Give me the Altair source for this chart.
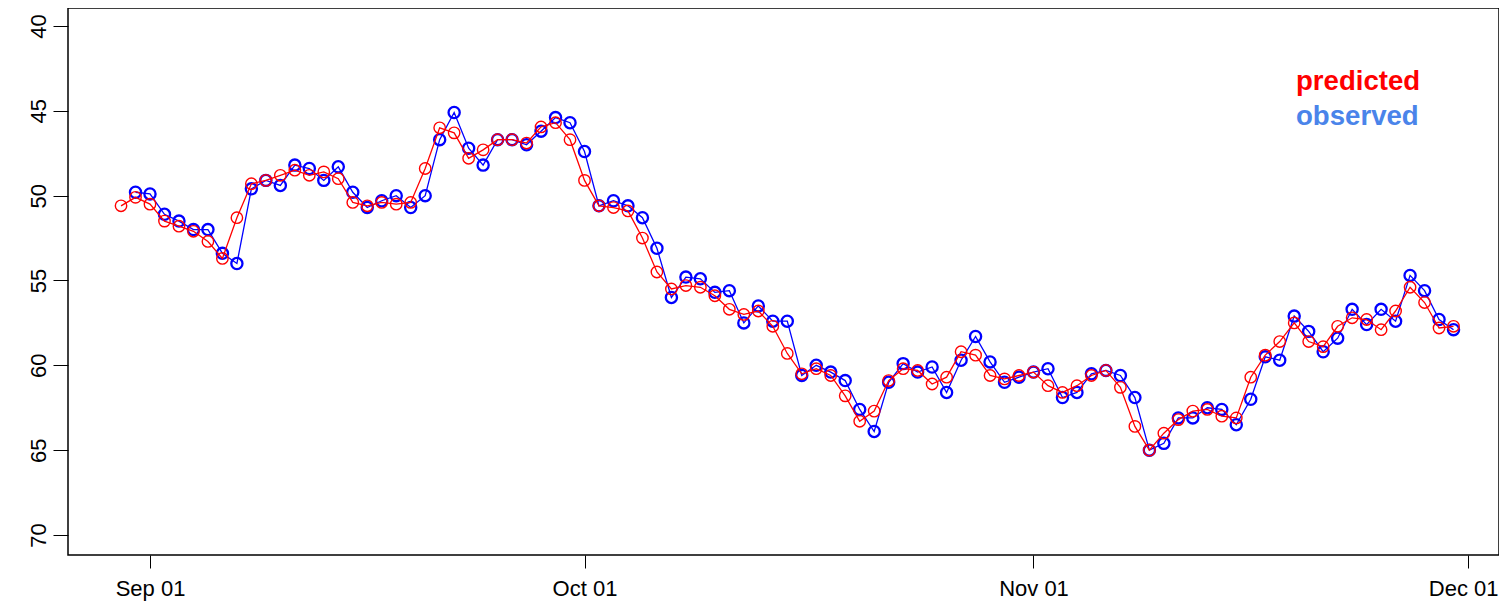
import altair as alt
import pandas as pd

# Daily dates
pred_dates = [d.strftime("%Y-%m-%dT00:00:00") for d in pd.date_range("2023-08-30", "2023-11-30", freq="D")]
obs_dates = pred_dates[1:]

predicted = [
    50.6, 50.1,
    50.5, 51.5, 51.8, 52.1, 52.7, 53.7, 51.3, 49.3, 49.1, 48.8,
    48.5, 48.8, 48.6, 49.0, 50.4, 50.6, 50.4, 50.5, 50.4, 48.4,
    46.0, 46.3, 47.8, 47.3, 46.7, 46.7, 46.9, 45.95, 45.7, 46.7,
    49.1, 50.6, 50.7, 50.9, 52.5, 54.5, 55.5, 55.3, 55.4, 55.9,
    56.7, 57.0, 56.8, 57.7, 59.3, 60.5, 60.2, 60.6, 61.8, 63.3,
    62.7, 60.9, 60.2, 60.3, 61.1, 60.7, 59.2, 59.4, 60.6, 60.8, 60.6,
    60.4, 61.2, 61.6, 61.2, 60.6, 60.3, 61.3, 63.6, 65.0, 64.0,
    63.2, 62.7, 62.6, 63.0, 63.1, 60.7, 59.4, 58.6, 57.5, 58.6,
    58.9, 57.7, 57.2, 57.3, 57.9, 56.8, 55.4, 56.3, 57.8, 57.7,
]
observed = [
    49.8,
    49.9, 51.1, 51.5, 52.0, 52.0, 53.4, 54.0, 49.6, 49.1, 49.4,
    48.2, 48.4, 49.1, 48.3, 49.8, 50.7, 50.3, 50.0, 50.7, 50.0,
    46.7, 45.1, 47.2, 48.2, 46.7, 46.7, 47.0, 46.2, 45.4, 45.7,
    47.4, 50.6, 50.3, 50.6, 51.3, 53.1, 56.0, 54.8, 54.9, 55.7,
    55.6, 57.5, 56.5, 57.4, 57.4, 60.6, 60.0, 60.4, 60.9, 62.6,
    63.9, 61.0, 59.9, 60.4, 60.1, 61.6, 59.7, 58.3, 59.8, 61.0, 60.7,
    60.4, 60.2, 61.9, 61.6, 60.5, 60.3, 60.6, 61.9, 65.0, 64.6,
    63.1, 63.1, 62.5, 62.6, 63.5, 62.0, 59.5, 59.7, 57.1, 58.0,
    59.2, 58.4, 56.7, 57.6, 56.7, 57.4, 54.7, 55.6, 57.3, 57.9,
]

legend_labels = ["predicted", "observed"]
legend_colors = ["#ff0000", "#4a84ea"]

pred_df = pd.DataFrame({"date": pred_dates, "value": predicted})
obs_df = pd.DataFrame({"date": obs_dates, "value": observed})

x_scale = alt.Scale(domain=[alt.DateTime(year=2023, month=8, date=26, hours=8, minutes=8),
                            alt.DateTime(year=2023, month=12, date=3, hours=3, minutes=21)],
                    nice=False)
y_scale = alt.Scale(domain=[38.94, 71.18], reverse=True, nice=False, zero=False)

x_enc = alt.X("date:T", scale=x_scale, title=None,
              axis=alt.Axis(values=[alt.DateTime(year=2023, month=m, date=1) for m in [9, 10, 11, 12]],
                            format="%b %d", grid=False, domain=False, tickSize=13, tickColor="black",
                            labelFontSize=22, labelColor="black", labelFont="Liberation Sans",
                            labelPadding=10, labelFlush=35, labelFlushOffset=30,
                            labelOverlap=False))
y_enc = alt.Y("value:Q", scale=y_scale, title=None,
              axis=alt.Axis(values=[40, 45, 50, 55, 60, 65, 70], grid=False, domain=False,
                            tickSize=15, tickColor="black", labelAngle=270, labelAlign="center",
                            labelBaseline="bottom", labelPadding=3, labelFontSize=22,
                            labelColor="black", labelFont="Liberation Sans", labelFlush=False,
                            labelOverlap=False))

obs_line = alt.Chart(obs_df).mark_line(color="#0000ff", strokeWidth=1.3).encode(x=x_enc, y=y_enc)
obs_pts = alt.Chart(obs_df).mark_point(color="#0000ff", shape="circle", filled=False,
                                       size=125, strokeWidth=2.3, opacity=1).encode(x=x_enc, y=y_enc)
pred_line = alt.Chart(pred_df).mark_line(color="#ff0000", strokeWidth=1.3).encode(x=x_enc, y=y_enc)
pred_pts = alt.Chart(pred_df).mark_point(color="#ff0000", shape="circle", filled=False,
                                         size=130, strokeWidth=1.4, opacity=1).encode(x=x_enc, y=y_enc)

leg_df = pd.DataFrame({"label": legend_labels, "color": legend_colors, "ypx": [74, 109]})
legend = alt.Chart(leg_df).mark_text(align="left", baseline="middle", fontSize=27.6,
                                     fontWeight="bold", font="Liberation Sans").encode(
    x=alt.value(1228),
    y=alt.Y("ypx:Q", scale=None),
    color=alt.Color("color:N", scale=None),
    text="label:N",
)

chart = alt.layer(obs_line, obs_pts, pred_line, pred_pts, legend).properties(
    width=1431, height=547,
    background="white",
    padding={"left": 60, "top": 0, "right": 0, "bottom": 49},
    autosize=alt.AutoSizeParams(type="none"),
).configure_view(stroke="black", strokeWidth=1.5)

chart.save("out.html", embed_options={"renderer": "svg", "actions": False})
